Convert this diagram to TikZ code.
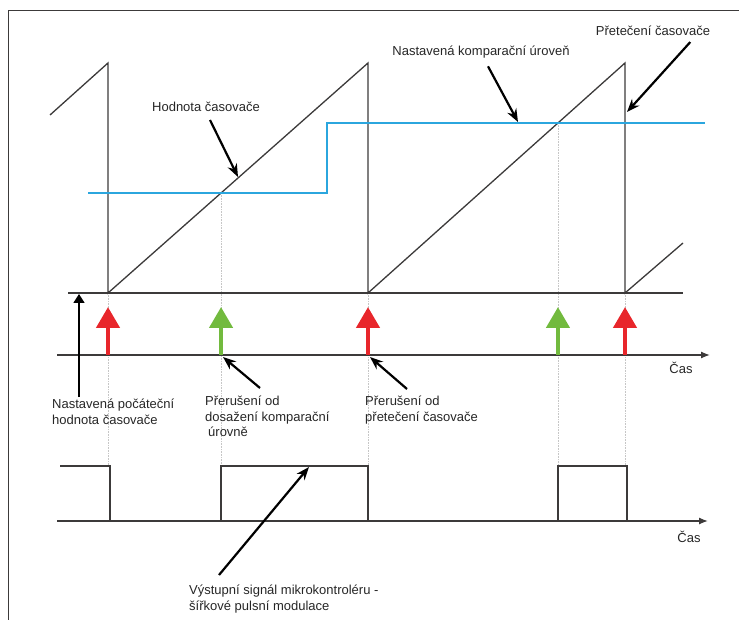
\documentclass[tikz,border=0pt]{standalone}
\usepackage{fontspec}
\setmainfont{Liberation Sans}
\usetikzlibrary{arrows.meta}
\definecolor{irqred}{HTML}{E8262B}
\definecolor{irqgreen}{HTML}{72BA3E}
\definecolor{levelblue}{HTML}{2BA6DE}
\definecolor{linegray}{HTML}{3C3A3A}
\tikzset{
    saw/.style={draw=linegray, line width=1.3pt, line join=miter},
    level/.style={draw=levelblue, line width=1.4pt},
    guide/.style={draw=gray!45, densely dotted, line width=0.6pt},
    axis/.style={draw=linegray, line width=1.3pt, -{Latex[length=9pt,width=7pt]}},
    irq/.style={line width=4.5pt, -{Triangle[width=23pt,length=21pt]}},
    callout/.style={draw=black, line width=2.2pt, -{Stealth[length=13pt,width=10pt]}},
    lbl/.style={font=\fontsize{13}{15.5}\selectfont, inner sep=0pt, align=left, text=black!85},
}
\begin{document}
\begin{tikzpicture}[
            x=1pt, y=-1pt,
            declare function={
                cross(\x,\lvl,\dx) = \x + (293-\lvl)/230*\dx;
            }
        ]
            \useasboundingbox (0,0) rectangle (739,620);
            \draw[line width=1pt, linegray] (8,620) -- (8,11) -- (739,11);

            % 交点
            \pgfmathsetmacro{\xa}{cross(108,193,260)}
            \pgfmathsetmacro{\xb}{cross(368,123,257)}

            \foreach \x/\y in {108/293, \xa/193, 368/293, \xb/123, 625/293}
                \draw[guide] (\x,\y) -- (\x,466);

            % 计数器
            \draw[saw] (50,115) -- (108,63) -- (108,293) -- (368,63) -- (368,293)
                -- (625,63) -- (625,293) -- (683,243);
            \draw[saw] (68,293) -- (683,293);
            \draw[level] (88,193) -- (327,193) -- (327,123) -- (705,123);

            % 中断
            \draw[axis] (57,355) -- (710,355);
            \node[lbl] (cas1) at (681,368) {Čas};
            \foreach \x/\c in {108/irqred, \xa/irqgreen, 368/irqred, \xb/irqgreen, 625/irqred}
                \draw[irq, \c] (\x,355) -- (\x,307);

            % PWM
            \draw[axis] (57,521) -- (708,521);
            \node[lbl] (cas2) at (689,537) {Čas};
            \draw[saw] (60,466) -- (110,466) -- (110,521);
            \draw[saw] (\xa,521) -- (\xa,466) -- (368,466) -- (368,521);
            \draw[saw] (\xb,521) -- (\xb,466) -- (627,466) -- (627,521);

            \node[lbl] (hodnota) at (206,107) {Hodnota časovače};
            \node[lbl] (uroven) at (481,52) {Nastavená komparační úroveň};
            \node[lbl] (pretec) at (653,31) {Přetečení časovače};
            \node[lbl, anchor=north west] (pocatek) at (52,399) {Nastavená počáteční\\hodnota časovače};
            \node[lbl, anchor=north west] (prerkomp) at (205,396) {Přerušení od\\dosažení komparační\\\hspace{3pt}úrovně};
            \node[lbl, anchor=north west] (prerpret) at (365,396) {Přerušení od\\přetečení časovače};
            \node[lbl, anchor=north west] (vystup) at (189,585) {Výstupní signál mikrokontroléru -\\šířkové pulsní modulace};

            \coordinate (hodnotaend) at (238,177);
            \coordinate (urovenend) at (518,122);
            \coordinate (pretecend) at (627,112);
            \coordinate (pocatekend) at (79,294);
            \coordinate (prerkompend) at (223,357);
            \coordinate (prerpretend) at (370,357);
            \coordinate (vystupend) at (309,467);

            \draw[callout] ([shift={(4,8)}]hodnota.south) -- (hodnotaend);
            \draw[callout] ([shift={(7,8)}]uroven.south) -- (urovenend);
            \draw[callout] ([shift={(-20,6)}]pretec.south east) -- (pretecend);
            \draw[black, line width=1.6pt, -{Triangle[width=11pt,length=9pt]}]
                ([shift={(27,-2)}]pocatek.north west) -- (pocatekend);
            \draw[callout] ([shift={(55,-8)}]prerkomp.north west) -- (prerkompend);
            \draw[callout] ([shift={(42,-7)}]prerpret.north west) -- (prerpretend);
            \draw[callout] ([shift={(30,-10)}]vystup.north west) -- (vystupend);
        \end{tikzpicture}
\end{document}
